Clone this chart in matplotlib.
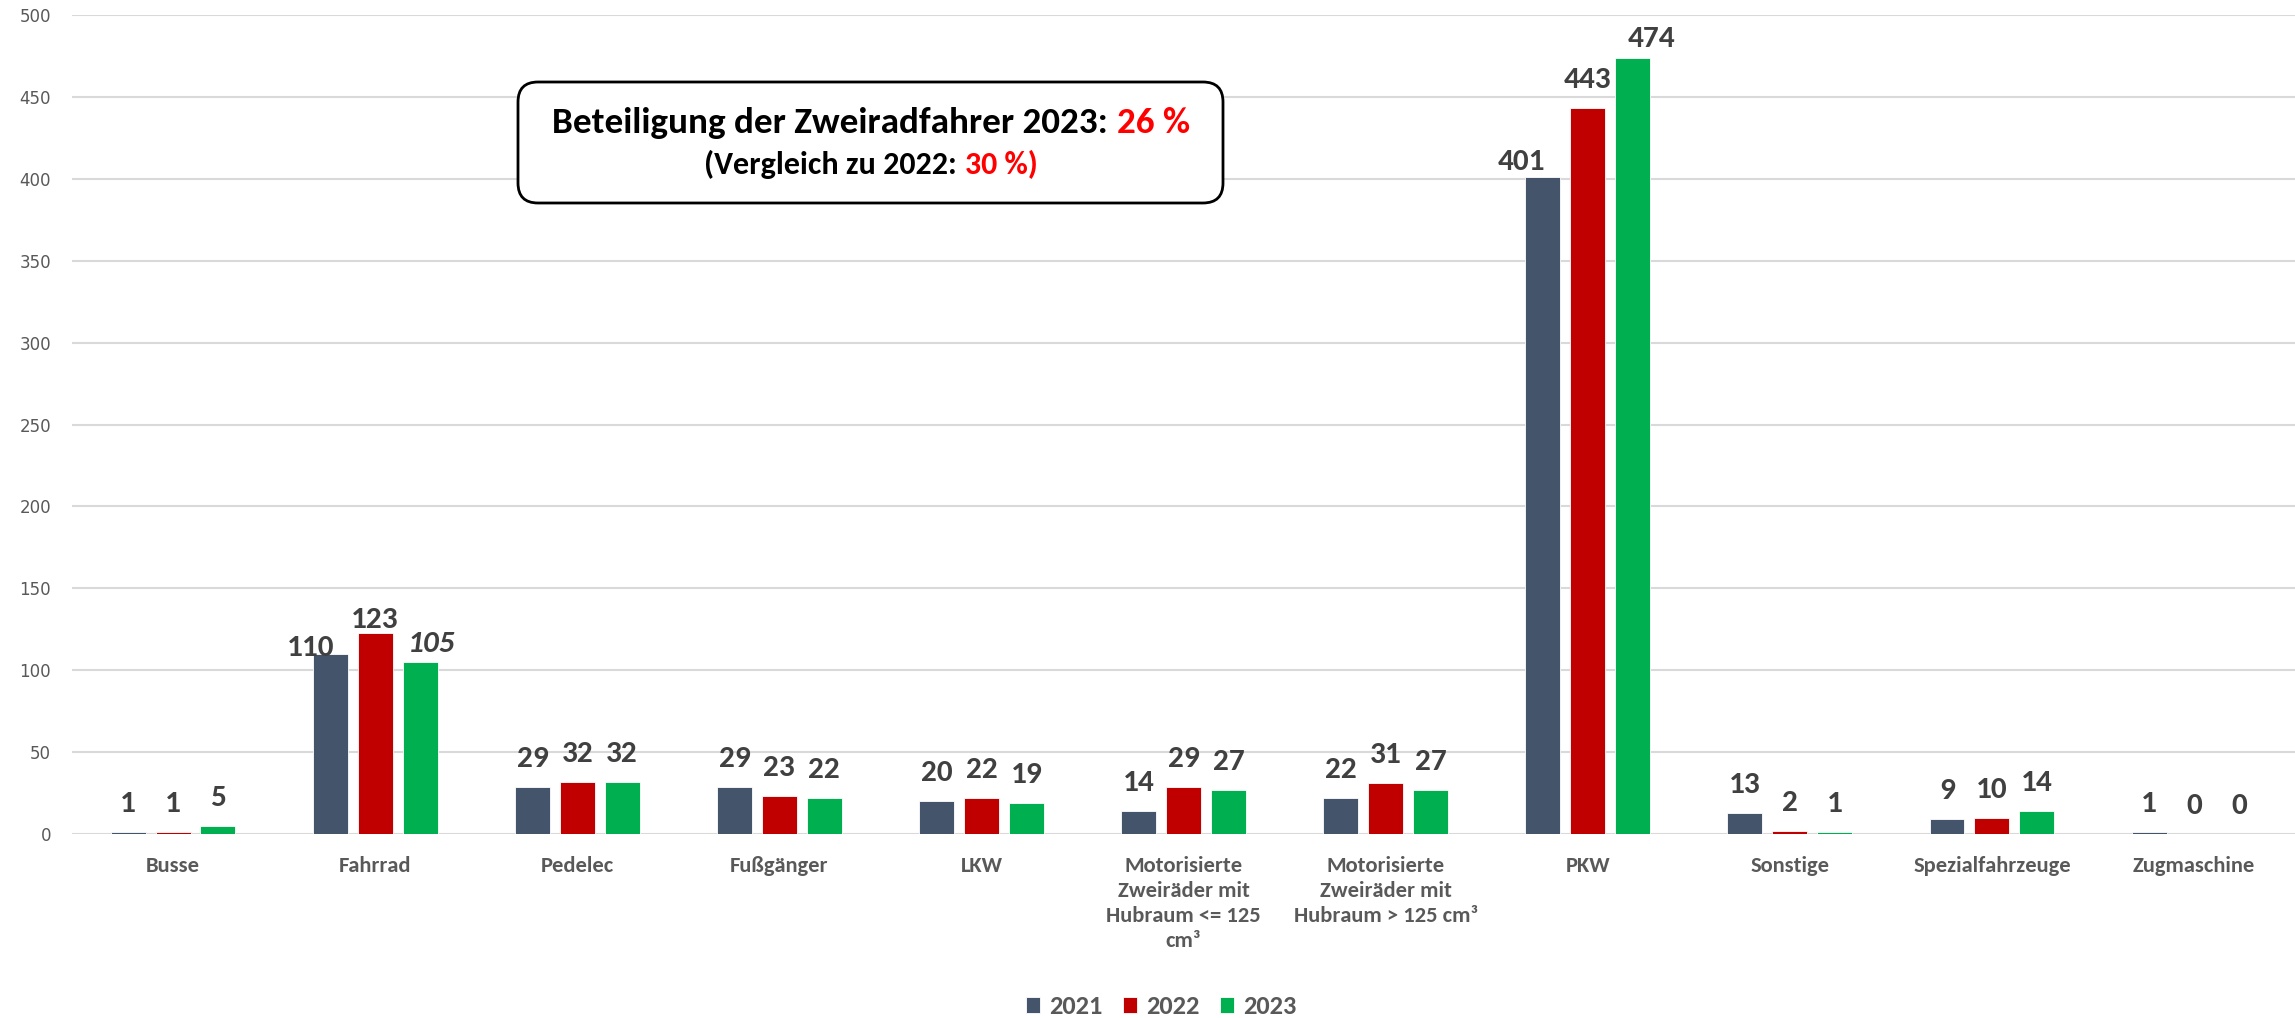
import matplotlib
matplotlib.use("Agg")
import numpy as np
import matplotlib.pyplot as plt
from matplotlib import font_manager
from matplotlib.font_manager import FontProperties
from matplotlib.patches import FancyBboxPatch
from matplotlib.transforms import IdentityTransform

# Daten
kategorien = ["Busse", "Fahrrad", "Pedelec", "Fußgänger", "LKW",
              "Motorisierte\nZweiräder mit\nHubraum <= 125\ncm³",
              "Motorisierte\nZweiräder mit\nHubraum > 125 cm³",
              "PKW", "Sonstige", "Spezialfahrzeuge", "Zugmaschine"]
jahre = ["2021", "2022", "2023"]
werte_2021 = [1, 110, 29, 29, 20, 14, 22, 401, 13, 9, 1]
werte_2022 = [1, 123, 32, 23, 22, 29, 31, 443, 2, 10, 0]
werte_2023 = [5, 105, 32, 22, 19, 27, 27, 474, 1, 14, 0]
farben = ["#44546A", "#C00000", "#00B050"]

# manuell verschobene Datenbeschriftungen (dx, dy in Punkt)
verschiebung = {("2021", 1): (-14, -16), ("2022", 1): (0, -11), ("2023", 1): (8, -7),
                ("2021", 7): (-15, -9), ("2023", 7): (14, -7)}
kursiv = {("2023", 1)}


def erste_schrift(kandidaten):
    for name in kandidaten:
        try:
            font_manager.findfont(FontProperties(family=name, weight="bold"),
                                  fallback_to_default=False)
            return name
        except ValueError:
            continue
    return None


haupt = erste_schrift(["Carlito", "Lato"])
if haupt == "Carlito":
    gr_wert, gr_x, gr_leg, zeilenabstand = 22.5, 16.2, 19, 1.3
else:
    haupt = "Lato"
    gr_wert, gr_x, gr_leg, zeilenabstand = 20, 14, 16, 1.45

plt.rcParams["font.family"] = [haupt, "DejaVu Sans"]

fig = plt.figure(figsize=(22.95, 10.18), dpi=100)
ax = fig.add_axes([0.0314, 0.1807, 0.9686, 0.8046])

x = np.arange(len(kategorien))
breite = 0.173
abstand = 0.222
for i, (jahr, werte) in enumerate(zip(jahre, [werte_2021, werte_2022, werte_2023])):
    pos = x + (i - 1) * abstand
    ax.bar(pos, werte, breite, color=farben[i], label=jahr,
           edgecolor="white", linewidth=0.6, zorder=3)
    for j, (p, w) in enumerate(zip(pos, werte)):
        dx, dy = verschiebung.get((jahr, j), (0, 0))
        ax.annotate(str(w), (p, w), xytext=(dx, 14.4 + dy), textcoords="offset points",
                    ha="center", va="baseline", fontsize=gr_wert, fontweight="bold",
                    color="#404040",
                    fontstyle="italic" if (jahr, j) in kursiv else "normal")

ax.set_xlim(-0.5, 10.5)
ax.set_ylim(0, 500)
ax.set_yticks(range(0, 501, 50))
ax.grid(axis="y", color="#D9D9D9", linewidth=1.5, zorder=0)
ax.set_axisbelow(True)
for s in ax.spines.values():
    s.set_visible(False)
ax.tick_params(axis="both", length=0)
ax.tick_params(axis="y", pad=15, labelsize=12, labelcolor="#595959")
for lab in ax.get_yticklabels():
    lab.set_fontfamily("DejaVu Sans")
ax.set_xticks(x)
ax.set_xticklabels(kategorien, fontsize=gr_x, fontweight="bold", color="#595959",
                   linespacing=zeilenabstand, va="top")
ax.tick_params(axis="x", pad=16)

fig.legend(loc="center", bbox_to_anchor=(0.506, 0.011), ncol=3, frameon=False,
           prop=dict(weight="bold", size=gr_leg), handlelength=0.55, handleheight=0.55,
           columnspacing=0.75, handletextpad=0.35, labelcolor="#595959")

# Textbox mit Zweiradbeteiligung
H = 1018
box = FancyBboxPatch((518, H - 203), 705, 121, boxstyle="round,pad=0,rounding_size=20",
                     transform=IdentityTransform(), facecolor="white", edgecolor="black",
                     linewidth=2, zorder=5)
fig.patches.append(box)

# (schwarz, rot, Zielbreite px, Startgröße pt, Grundlinie)
zeilen = [("Beteiligung der Zweiradfahrer 2023:", "26 %", 638, 24, H - 133),
          ("(Vergleich zu 2022:", "30 %)", 332, 19, H - 174)]
fig.canvas.draw()
r = fig.canvas.get_renderer()
mitte = 871
for schwarz, rot, ziel, gr0, yb in zeilen:
    t1 = fig.text(0, yb, schwarz, transform=IdentityTransform(), fontsize=gr0,
                  fontweight="bold", color="black", va="baseline", zorder=6)
    t2 = fig.text(0, yb, rot, transform=IdentityTransform(), fontsize=gr0,
                  fontweight="bold", color="#FF0000", va="baseline", zorder=6)
    w1 = t1.get_window_extent(r).width
    w2 = t2.get_window_extent(r).width
    gesamt = w1 + w2 + gr0 * 0.35
    gr = gr0 * ziel / gesamt
    t1.set_fontsize(gr)
    t2.set_fontsize(gr)
    w1 = t1.get_window_extent(r).width
    w2 = t2.get_window_extent(r).width
    luecke = gr * 0.35
    start = mitte - (w1 + luecke + w2) / 2
    t1.set_x(start)
    t2.set_x(start + w1 + luecke)

fig.savefig("out.png")
